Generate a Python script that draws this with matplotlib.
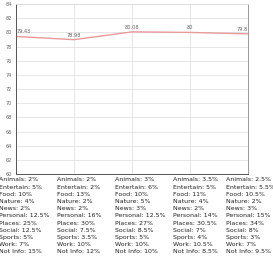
import matplotlib.pyplot as plt

points = [0, 1, 2, 3, 4]
scores = [79.43, 78.98, 80.08, 80, 79.8]
score_labels = ["79.43", "78.98", "80.08", "80", "79.8"]

categories = ["Animals", "Entertain", "Food", "Nature", "News", "Personal",
              "Places", "Social", "Sports", "Work", "Not Info"]
shares = [
    ["2%", "5%", "10%", "4%", "2%", "12.5%", "25%", "12.5%", "5%", "7%", "15%"],
    ["2%", "2%", "13%", "2%", "2%", "16%", "30%", "7.5%", "3.5%", "10%", "12%"],
    ["3%", "6%", "10%", "5%", "3%", "12.5%", "27%", "8.5%", "5%", "10%", "10%"],
    ["3.5%", "5%", "11%", "4%", "2%", "14%", "30.5%", "7%", "4%", "10.5%", "8.5%"],
    ["2.5%", "5.5%", "10.5%", "2%", "3%", "15%", "34%", "8%", "3%", "7%", "9.5%"],
]


def main():
    fig = plt.figure(figsize=(2.73, 2.56), dpi=100)
    ax = fig.add_axes([0.059, 0.32, 0.849, 0.664])

    ax.plot(points, scores, color="#e79a9a", linewidth=1.0)

    # value labels, kept inside the plot at both ends
    for i, (x, y, s) in enumerate(zip(points, scores, score_labels)):
        ha = "left" if i == 0 else ("right" if i == len(points) - 1 else "center")
        ax.annotate(s, (x, y), xytext=(0, 1.5), textcoords="offset points",
                    ha=ha, va="bottom", fontsize=3.6, color="#666666")

    ax.set_xlim(0, 4)
    ax.set_ylim(60, 84)
    ax.set_yticks(range(60, 85, 2))
    ax.set_xticks(points)
    ax.set_xticklabels([])
    ax.tick_params(axis="y", labelsize=3.6, labelcolor="#666666", length=0, pad=3)
    ax.tick_params(axis="x", length=0)
    ax.grid(True, color="#e2e2e2", linewidth=0.6)
    for side in ["left", "bottom"]:
        ax.spines[side].set_color("#555555")
        ax.spines[side].set_linewidth(0.7)
    ax.spines["right"].set_color("#999999")
    ax.spines["right"].set_linewidth(0.7)
    ax.spines["top"].set_color("#dddddd")
    ax.spines["top"].set_linewidth(0.6)

    # category breakdown under each point
    for i, x in enumerate(points):
        block = "\n".join(f"{c}: {v}" for c, v in zip(categories, shares[i]))
        off = -0.385 if i == len(points) - 1 else -0.3
        ax.text(x + off, -0.02, block, transform=ax.get_xaxis_transform(),
                ha="left", va="top", fontsize=4.5, linespacing=1.55,
                color="#222222", clip_on=False)

    fig.savefig("out.png", dpi=100)


if __name__ == "__main__":
    main()
